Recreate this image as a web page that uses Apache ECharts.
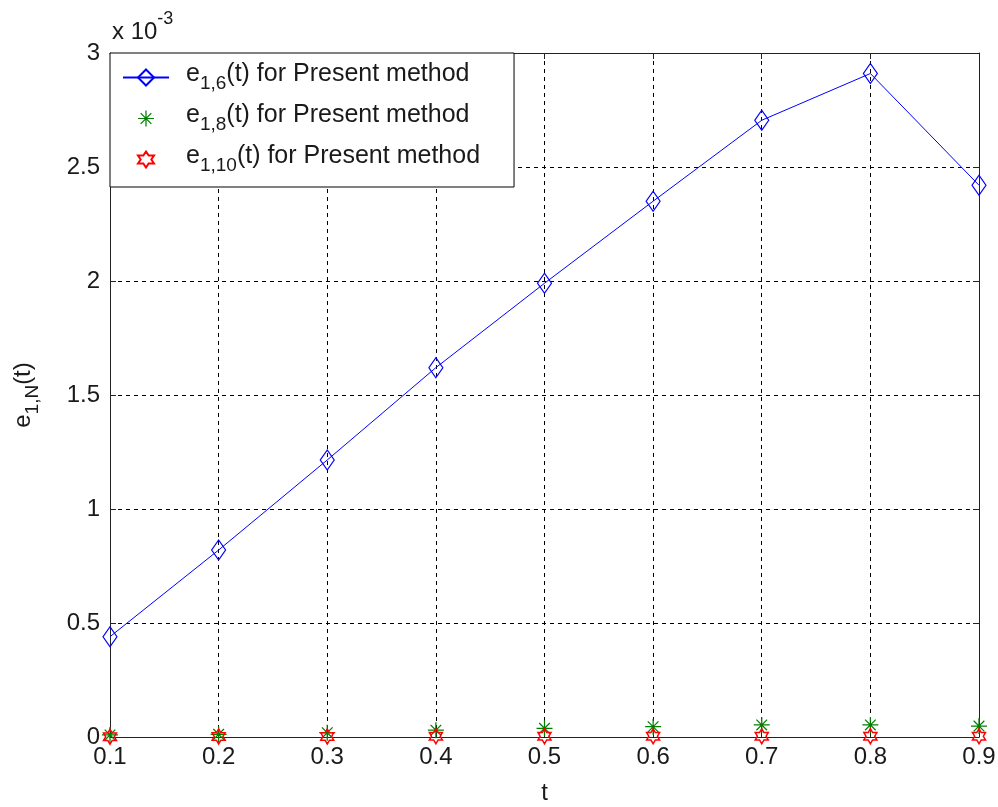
<!DOCTYPE html>
<html>
<head>
<meta charset="utf-8">
<script src="https://cdn.jsdelivr.net/npm/echarts@6/dist/echarts.min.js"></script>
<style>
html,body{margin:0;padding:0;background:#fff;}
#chart{width:998px;height:807px;}
</style>
</head>
<body>
<div id="chart"></div>
<script>
// Data (values in units of 10^-3)
var tValues = [0.1, 0.2, 0.3, 0.4, 0.5, 0.6, 0.7, 0.8, 0.9];
var e16 = [0.44, 0.82, 1.215, 1.62, 1.99, 2.35, 2.705, 2.91, 2.42];
var e18 = [0.009, 0.012, 0.019, 0.030, 0.038, 0.045, 0.053, 0.053, 0.048];
var e110 = [0.001, 0.002, 0.002, 0.003, 0.003, 0.003, 0.003, 0.003, 0.003];
var seriesNames = ['e16', 'e18', 'e110'];
var seriesSubs = ['1,6', '1,8', '1,10'];

function pairs(ys) { return tValues.map(function (t, i) { return [t, ys[i]]; }); }

var FONT = 'Liberation Sans, Arial, sans-serif';
var TXT = '#1a1a1a';
var starPath = 'path://M9.3 1L10.7 1L10.7 19L9.3 19Z M1 9.3L19 9.3L19 10.7L1 10.7Z M3.5 4.5L4.5 3.5L16.5 15.5L15.5 16.5Z M15.5 3.5L16.5 4.5L4.5 16.5L3.5 15.5Z';
var hexPath = 'path://M10 0L12.89 5L18.66 5L15.77 10L18.66 15L12.89 15L10 20L7.11 15L1.34 15L4.23 10L1.34 5L7.11 5Z';

var gridCfg = { left: 110, right: 19, top: 53, bottom: 70, containLabel: false, outerBoundsMode: 'none' };
var dashed = { show: true, lineStyle: { color: '#000', type: [4, 4], width: 1 } };

var option = {
  animation: false,
  backgroundColor: '#fff',
  textStyle: { fontFamily: FONT },
  grid: gridCfg,
  xAxis: [{
    type: 'value', min: 0.1, max: 0.9, interval: 0.1,
    name: 't', nameLocation: 'middle', nameGap: 44,
    nameTextStyle: { fontSize: 24, color: TXT, fontFamily: FONT },
    axisLine: { show: true, onZero: false, lineStyle: { color: '#222', width: 1 } },
    axisTick: { show: true, inside: true, length: 6, lineStyle: { color: '#222' } },
    axisLabel: { fontSize: 24, color: TXT, margin: 8, fontFamily: FONT, formatter: function (v) { return v.toFixed(1); } },
    splitLine: dashed
  }, {
    type: 'value', position: 'top', min: 0.1, max: 0.9, interval: 0.1,
    axisLine: { show: true, onZero: false, lineStyle: { color: '#222', width: 1 } },
    axisTick: { show: true, inside: true, length: 6, lineStyle: { color: '#222' } },
    axisLabel: { show: false }, splitLine: { show: false }
  }],
  yAxis: [{
    type: 'value', min: 0, max: 3, interval: 0.5,
    name: '{n|e}{s|1,N}{n|(t)}', nameLocation: 'middle', nameGap: 68, nameRotate: 90,
    nameTextStyle: {
      color: TXT, fontFamily: FONT,
      rich: {
        n: { fontSize: 24, color: TXT, fontFamily: FONT, verticalAlign: 'top' },
        s: { fontSize: 19, color: TXT, fontFamily: FONT, verticalAlign: 'bottom', padding: [12, 0, 0, 0] }
      }
    },
    axisLine: { show: true, onZero: false, lineStyle: { color: '#222', width: 1 } },
    axisTick: { show: true, inside: true, length: 6, lineStyle: { color: '#222' } },
    axisLabel: { fontSize: 24, color: TXT, margin: 10, fontFamily: FONT },
    splitLine: dashed
  }, {
    type: 'value', position: 'right', min: 0, max: 3, interval: 0.5,
    axisLine: { show: true, onZero: false, lineStyle: { color: '#222', width: 1 } },
    axisTick: { show: true, inside: true, length: 6, lineStyle: { color: '#222' } },
    axisLabel: { show: false }, splitLine: { show: false }
  }],
  legend: {
    orient: 'vertical', left: 110, top: 53,
    backgroundColor: '#fff', borderColor: '#000', borderWidth: 1, borderRadius: 0,
    padding: [9, 34, 12, 12],
    itemWidth: 46, itemHeight: 20, itemGap: 10,
    data: seriesNames,
    formatter: function (name) {
      var i = seriesNames.indexOf(name);
      return '{g|}{n|e}{s|' + seriesSubs[i] + '}{n|(t) for Present method}';
    },
    textStyle: {
      color: TXT, fontFamily: FONT,
      rich: {
        g: { width: 12 },
        n: { fontSize: 25, color: TXT, fontFamily: FONT, verticalAlign: 'top' },
        s: { fontSize: 19, color: TXT, fontFamily: FONT, verticalAlign: 'bottom', padding: [12, 0, 0, 0] }
      }
    }
  },
  graphic: [{
    type: 'text', left: 112, top: 10,
    style: {
      text: '{n|x 10}{p|-3}',
      rich: {
        n: { fontSize: 24, fill: TXT, fontFamily: FONT, verticalAlign: 'bottom', padding: [10, 0, 0, 0] },
        p: { fontSize: 18, fill: TXT, fontFamily: FONT, verticalAlign: 'top' }
      }
    }
  }],
  series: [{
    name: 'e16', type: 'line', data: pairs(e16),
    symbol: 'diamond', symbolSize: [14, 20],
    lineStyle: { color: '#0000ff', width: 1 },
    itemStyle: { color: 'rgba(255,255,255,0)', borderColor: '#0000ff', borderWidth: 1.2 },
    z: 3
  }, {
    name: 'e18', type: 'line', data: pairs(e18),
    symbol: starPath, symbolSize: [16, 16],
    lineStyle: { width: 0, opacity: 0 },
    itemStyle: { color: '#008000', borderWidth: 0 },
    z: 4
  }, {
    name: 'e110', type: 'line', data: pairs(e110),
    symbol: hexPath, symbolSize: [13, 15],
    lineStyle: { width: 0, opacity: 0 },
    itemStyle: { color: 'rgba(255,255,255,0)', borderColor: '#ff0000', borderWidth: 1.5 },
    z: 5
  }]
};

var chart = echarts.init(document.getElementById('chart'), null, { renderer: 'canvas' });
chart.setOption(option);
</script>
</body>
</html>
